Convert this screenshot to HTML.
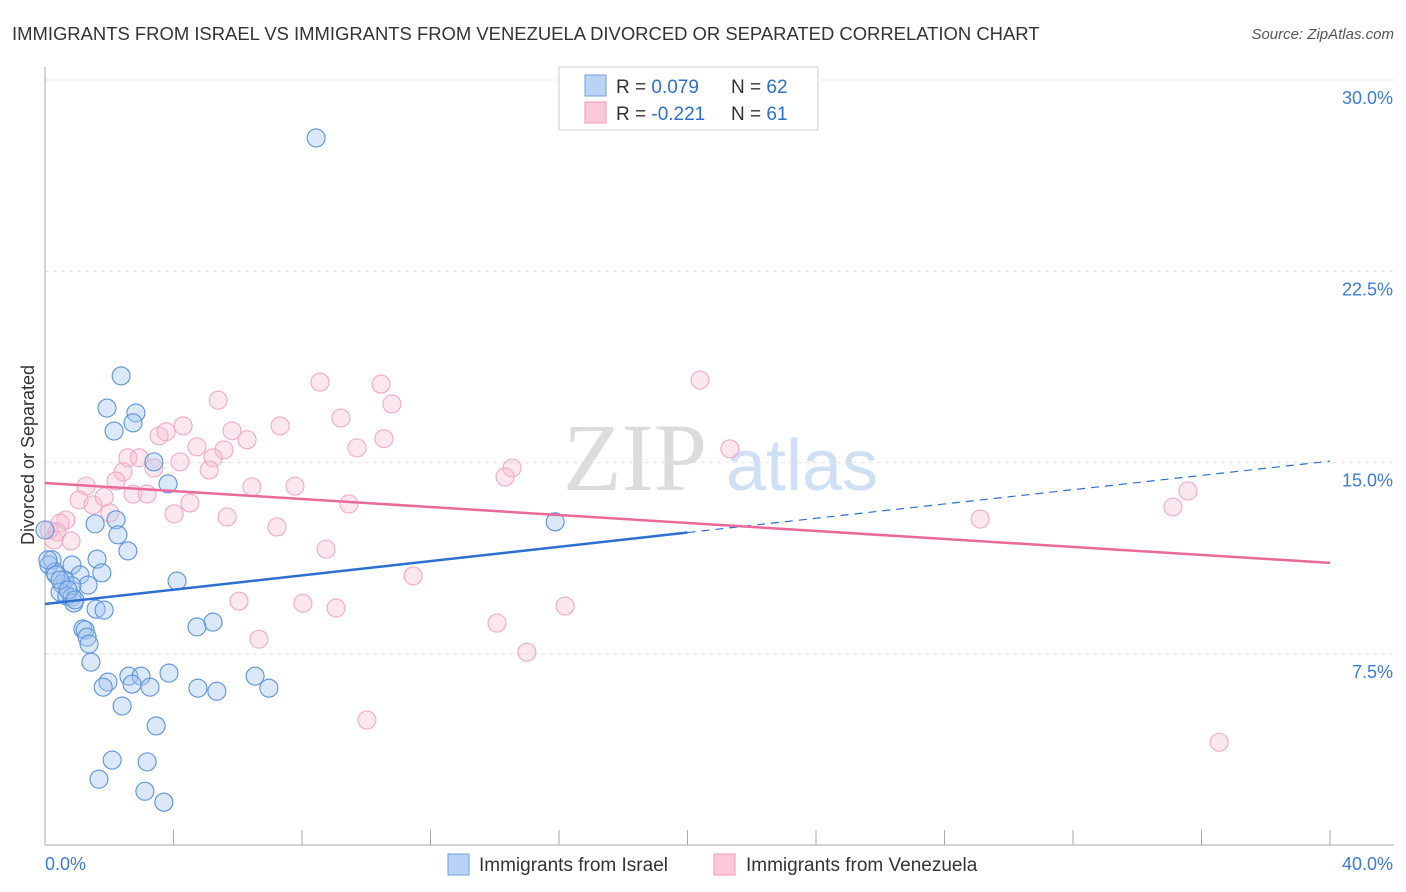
<!DOCTYPE html>
<html><head><meta charset="utf-8"><style>
body{margin:0;background:#fff;font-family:"Liberation Sans",sans-serif}
svg{display:block}
</style></head><body>
<svg id="c" width="1406" height="892">
<text x="12" y="40" font-size="18.45" fill="#333">IMMIGRANTS FROM ISRAEL VS IMMIGRANTS FROM VENEZUELA DIVORCED OR SEPARATED CORRELATION CHART</text>
<text x="1394" y="39" font-size="15" fill="#555" text-anchor="end" font-style="italic">Source: ZipAtlas.com</text>
<text x="34" y="455" font-size="18" fill="#333" text-anchor="middle" transform="rotate(-90 34 455)">Divorced or Separated</text>
<g><text x="635" y="490" font-size="96" fill="#dcdcdc" text-anchor="middle" font-family="Liberation Serif,serif">ZIP</text><text x="802" y="490" font-size="72" fill="#cfe0f5" text-anchor="middle">atlas</text></g>
<g id="grid"></g><g id="marks"></g>
<g>
<rect x="559" y="67" width="259" height="63" fill="#fff" stroke="#ccc"/>
<rect x="585" y="75" width="21" height="21" fill="#b9d3f5" stroke="#6f9fdf"/>
<rect x="585" y="102" width="21" height="21" fill="#fbcad8" stroke="#f09ab5"/>
<text x="616" y="93" font-size="19" fill="#333">R = <tspan fill="#2d6fd0">0.079</tspan><tspan x="731">N = </tspan><tspan fill="#2d6fd0">62</tspan></text>
<text x="616" y="120" font-size="19" fill="#333">R = <tspan fill="#2d6fd0">-0.221</tspan><tspan x="731">N = </tspan><tspan fill="#2d6fd0">61</tspan></text>
</g>
<g>
<rect x="448" y="854" width="21" height="21" fill="#b9d3f5" stroke="#6f9fdf"/>
<text x="479" y="871" font-size="19" fill="#333">Immigrants from Israel</text>
<rect x="714" y="854" width="21" height="21" fill="#fbcad8" stroke="#f09ab5"/>
<text x="746" y="871" font-size="19" fill="#333">Immigrants from Venezuela</text>
</g>
</svg>
<script>
const yTicks=[7.5,15,22.5,30];
const yTickLabels=["7.5%","15.0%","22.5%","30.0%"];
const xTicks=[0,4,8,12,16,20,24,28,32,36,40];
const israelX=[8.44,2.37,1.93,2.83,2.15,2.74,3.39,3.83,1.56,2.21,15.88,2.27,2.58,1.62,0.22,0.12,0.84,0.31,1.77,1.09,0.62,0.53,1.34,0.84,4.11,0.47,0.68,0.84,0.90,1.59,1.84,1.18,1.25,1.31,5.23,4.73,1.37,1.43,2.61,2.99,1.96,1.81,2.71,3.27,3.86,4.76,5.35,6.54,6.97,2.40,3.46,2.09,3.18,1.68,3.11,3.70,0.0,0.09,0.34,0.47,0.72,0.93];
const israelY=[27.73,18.40,17.14,16.95,16.24,16.56,15.03,14.17,12.60,12.76,12.68,12.17,11.54,11.22,11.19,10.99,10.99,10.71,10.68,10.60,10.40,10.24,10.20,10.17,10.36,9.93,9.77,9.73,9.50,9.26,9.22,8.48,8.44,8.16,8.75,8.56,7.89,7.18,6.63,6.63,6.40,6.20,6.32,6.20,6.75,6.16,6.04,6.63,6.16,5.46,4.68,3.34,3.27,2.59,2.12,1.69,12.36,11.19,10.60,10.40,10.01,9.62];
const venX=[20.39,8.56,10.46,10.80,5.39,9.21,7.32,4.30,3.55,3.77,5.82,6.29,10.55,9.71,4.73,5.57,5.23,2.58,2.93,4.20,3.39,2.43,5.11,14.54,14.32,21.32,1.28,2.21,7.78,6.44,2.74,3.18,1.84,1.06,4.51,9.46,1.49,2.02,4.02,5.67,0.65,0.47,7.22,29.11,35.58,35.11,0.37,0.28,0.81,0.12,8.75,11.46,6.04,8.03,9.06,16.19,14.07,6.66,15.00,10.02,36.55];
const venY=[18.24,18.16,18.08,17.30,17.45,16.75,16.44,16.44,16.05,16.21,16.25,15.90,15.94,15.58,15.62,15.50,15.19,15.19,15.19,15.03,14.79,14.64,14.71,14.79,14.44,15.54,14.08,14.28,14.08,14.05,13.77,13.77,13.65,13.54,13.42,13.38,13.34,13.03,12.99,12.87,12.75,12.63,12.48,12.79,13.89,13.26,12.28,11.97,11.93,12.36,11.61,10.56,9.57,9.49,9.30,9.38,8.71,8.08,7.57,4.91,4.04];
const israelTrend=[9.46,15.06];
const venTrend=[14.20,11.07];
const X=v=>45+v/40*1285, Y=v=>845.3-v/30*765.3;
const NS="http://www.w3.org/2000/svg";
const g=document.getElementById('grid'), m=document.getElementById('marks');
function mk(p,tag,a){const e=document.createElementNS(NS,tag);for(const k in a)e.setAttribute(k,a[k]);p.appendChild(e);return e;}
yTicks.forEach((t,i)=>{
 const l=mk(g,'line',{x1:45,x2:1394,y1:Y(t),y2:Y(t),stroke:'#e0e0e0','stroke-dasharray':'4,4'});
 
 
 const tx=mk(g,'text',{x:1393,y:Y(t)+24,'font-size':18,fill:'#3d7bd6','text-anchor':'end'});
 tx.textContent=yTickLabels[i];
 
 
});
const ax=mk(g,'line',{x1:45,x2:1394,y1:845,y2:845,stroke:'#aaa'});


const ay=mk(g,'line',{x1:45,x2:45,y1:67,y2:845,stroke:'#aaa'});


xTicks.forEach(t=>{const l=mk(g,'line',{x1:X(t),x2:X(t),y1:830,y2:845,stroke:'#aaa'});
 
 });
const xl0=mk(g,'text',{x:45,y:870,'font-size':18,fill:'#3d7bd6'});xl0.textContent='0.0%';


const xl1=mk(g,'text',{x:1393,y:870,'font-size':18,fill:'#3d7bd6','text-anchor':'end'});xl1.textContent='40.0%';


venX.forEach((v,i)=>{const c=mk(m,'circle',{cx:X(v),cy:Y(venY[i]),r:9,fill:'rgba(248,185,205,0.35)',stroke:'#f3a9c0','stroke-width':1.1});
 
 });
israelX.forEach((v,i)=>{const c=mk(m,'circle',{cx:X(v),cy:Y(israelY[i]),r:9,fill:'rgba(165,198,240,0.4)',stroke:'#5a92dc','stroke-width':1.1});
 
 });
const ym=israelTrend[0]+(israelTrend[1]-israelTrend[0])*0.5;
const t1=mk(m,'line',{x1:X(0),y1:Y(israelTrend[0]),x2:X(20),y2:Y(ym),stroke:'#2d6fd0','stroke-width':2.5});


const t2=mk(m,'line',{x1:X(20),y1:Y(ym),x2:X(40),y2:Y(israelTrend[1]),stroke:'#2d6fd0','stroke-width':1.2,'stroke-dasharray':'8,6'});


const t3=mk(m,'line',{x1:X(0),y1:Y(venTrend[0]),x2:X(40),y2:Y(venTrend[1]),stroke:'#e8699a','stroke-width':2.5});


</script>
</body></html>
